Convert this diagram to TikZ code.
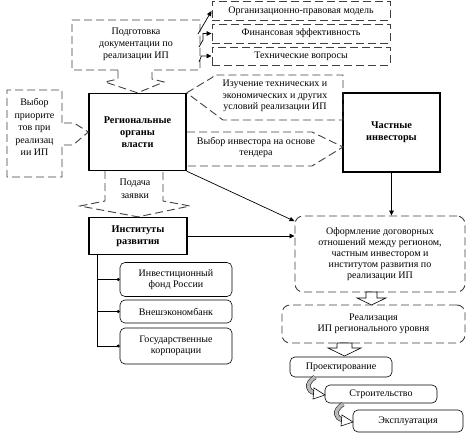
\documentclass[tikz,border=0pt]{standalone}
\usepackage{fontspec}
\setmainfont{Liberation Serif}
\usetikzlibrary{arrows.meta,calc}
\begin{document}
\begin{tikzpicture}[x=1pt,y=-1pt,
  every node/.style={font=\fontsize{10}{11.2}\selectfont, align=center, inner sep=1pt},
  solidbox/.style={draw, line width=1.3pt, font=\fontsize{10.3}{11.8}\selectfont\bfseries},
  dline/.style={draw=black!75, line width=0.9pt, dash pattern=on 8pt off 4pt},
  dbox/.style={dline, inner sep=0pt},
  rbox/.style={draw, rounded corners=5pt, line width=0.6pt, inner sep=0pt},
  conn/.style={line width=0.7pt},
  tip/.style={-{Triangle[length=5pt,width=4.5pt]}},
  dotend/.style={-{Circle[length=3pt]}},
  hollow/.style={draw, fill=white, line width=0.6pt},
  band/.style={line width=0.5pt, double=gray!55, double distance=3.5pt}
]
\useasboundingbox (0,0) rectangle (474,433);

% main solid boxes
\node[solidbox, minimum width=97pt, minimum height=77pt] (reg) at (137.5,132) {Региональные\\органы\\власти};
\node[solidbox, minimum width=97pt, minimum height=79pt] (priv) at (391.5,132.5) {Частные\\инвесторы};
\node[solidbox, minimum width=98pt, minimum height=37pt] (inst) at (138,236) {Институты\\развития};

% top right dashed boxes
\node[dbox, minimum width=178pt, minimum height=19pt] (org) at (301,11) {Организационно-правовая модель};
\node[dbox, minimum width=178pt, minimum height=19pt] (fin) at (301,33.5) {Финансовая эффективность};
\node[dbox, minimum width=178pt, minimum height=18pt] (tech) at (301,56) {Технические вопросы};

% callouts: texts
\node[font=\fontsize{10}{12}\selectfont] (podg) at (136,44) {Подготовка\\документации по\\реализации ИП};
\node[font=\fontsize{10}{12.5}\selectfont] (vyb) at (34.5,127) {Выбор\\приорите\\тов при\\реализац\\ии ИП};
\node (izu) at (275,96) {Изучение технических и\\экономических и других\\условий реализации ИП};
\node (tend) at (256,147.5) {Выбор инвестора на основе\\тендера};
\node[font=\fontsize{10}{13}\selectfont] (pod) at (135,189) {Подача\\заявки};

% callouts: outlines
\draw[dline] (118,70) -- (72,70) -- (72,20) -- (200,20) -- (200,70) -- (152,70) -- (152,79) -- (164,82) -- (reg.north) -- (105,82) -- (118,79) -- cycle;
\draw[dline] (62,123) -- (62,90) -- (7,90) -- (7,177) -- (62,177) -- (62,145) -- (73,145) -- (reg.west) -- (74,123) -- cycle;
\draw[dline] (reg.north east) -- (213,77) -- (213,75) -- (343,75) -- (343,120) -- (223,120) -- cycle;
\draw[dline] (187,132) -- (312,132) -- (343,147) -- (312,166) -- (187,166);
\draw[dline] (105,171) -- (105,201) -- (80,206) -- (inst.north) -- (190,206) -- (163,201) -- (163,171);

% process boxes
\node[dline, rounded corners=8pt, minimum width=170pt, minimum height=76pt] (oform) at (380,254) {Оформление договорных\\отношений между регионом,\\частным инвестором и\\институтом развития по\\реализации ИП};
\node[dline, rounded corners=8pt, minimum width=183pt, minimum height=38pt] (real) at (373.5,324) {Реализация\\ИП регионального уровня};

\node[rbox, minimum width=112pt, minimum height=34pt] (ifr) at (176,279.5) {Инвестиционный\\фонд России};
\node[rbox, minimum width=112pt, minimum height=23pt] (veb) at (176,311.5) {Внешэкономбанк};
\node[rbox, minimum width=112pt, minimum height=36pt] (gk) at (176,346) {Государственные\\корпорации};

\node[rbox, minimum width=102pt, minimum height=20pt] (proj) at (341,367) {Проектирование};
\node[rbox, minimum width=112pt, minimum height=18pt] (stroi) at (381,394) {Строительство};
\node[rbox, minimum width=110pt, minimum height=22pt] (expl) at (408,421) {Эксплуатация};

% connectors from preparation box
\coordinate (p1) at (198,34);
\coordinate (p2) at (199,47);
\coordinate (p3) at (199,62);
\draw[conn,tip] (p1) -- (org.west);
\draw[conn,tip] (p2) -- (203,40) |- (fin.west);
\draw[conn,tip] (p3) -- (201,57) |- (tech.west);

% connectors to contract box
\draw[conn,tip] (priv.south) -- (priv.south |- oform.north);
\draw[conn,tip] (reg.south east) -- (oform.159);
\draw[conn,tip] (inst.east) -- (inst.east -| oform.west);

% institutes bracket
\coordinate (br) at ($(inst.south west)+(9,0)$);
\draw[conn] (br) -- (br |- gk.west);
\foreach \n in {ifr,veb,gk} \draw[conn,dotend] (br |- \n.west) -- (\n.west);

% hollow block arrows
\draw[hollow] (366,292) -- (377,292) -- (377,298) -- (386,298) -- (371.5,305) -- (357,298) -- (366,298) -- cycle;
\draw[hollow] (337,343) -- (352,343) -- (352,348) -- (361,348) -- (344.5,356) -- (328,348) -- (337,348) -- cycle;

% curved gray arrows
\draw[band] (315,377) .. controls (305,384) and (307,391) .. (315,393);
\draw[hollow] (314,388) -- (325,395) -- (313,399) -- cycle;
\draw[band] (343,404) .. controls (333,411) and (335,418) .. (343,420);
\draw[hollow] (342,415) -- (353,422) -- (341,426) -- cycle;
\end{tikzpicture}
\end{document}
